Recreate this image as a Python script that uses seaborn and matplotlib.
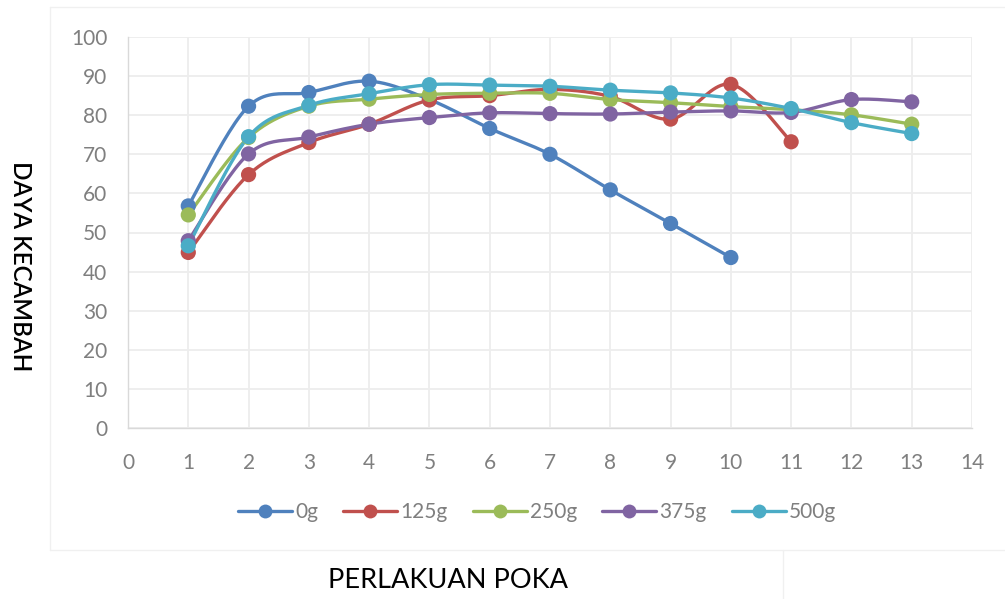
import numpy as np
import pandas as pd
import matplotlib
matplotlib.use("Agg")
import matplotlib.pyplot as plt
import seaborn as sns
from matplotlib.lines import Line2D

# ---- data ----
series_names = ["0g", "125g", "250g", "375g", "500g"]
x_0g   = [1, 2, 3, 4, 5, 6, 7, 8, 9, 10]
y_0g   = [56.8, 82.3, 85.8, 88.7, 84.0, 76.6, 70.0, 60.9, 52.3, 43.6]
x_125g = [1, 2, 3, 4, 5, 6, 7, 8, 9, 10, 11]
y_125g = [44.9, 64.8, 73.0, 77.7, 83.9, 85.0, 86.6, 84.8, 79.0, 87.9, 73.2]
x_250g = [1, 2, 3, 4, 5, 6, 7, 8, 9, 10, 11, 12, 13]
y_250g = [54.5, 74.3, 82.3, 84.1, 85.3, 85.6, 85.6, 84.0, 83.2, 82.2, 81.4, 80.1, 77.7]
x_375g = [1, 2, 3, 4, 5, 6, 7, 8, 9, 10, 11, 12, 13]
y_375g = [47.9, 70.1, 74.4, 77.7, 79.4, 80.6, 80.4, 80.3, 80.8, 81.1, 80.7, 84.0, 83.4]
x_500g = [1, 2, 3, 4, 5, 6, 7, 8, 9, 10, 11, 12, 13]
y_500g = [46.6, 74.5, 82.5, 85.5, 87.8, 87.7, 87.4, 86.4, 85.7, 84.4, 81.7, 78.1, 75.3]
x_ticks = list(range(0, 15))
y_ticks = list(range(0, 101, 10))
colors = ["#4F81BD", "#C0504D", "#9BBB59", "#8064A2", "#4BACC6"]

xs = [x_0g, x_125g, x_250g, x_375g, x_500g]
ys = [y_0g, y_125g, y_250g, y_375g, y_500g]

def smooth(x, y, n=24):
    """Excel-like smoothed line (Catmull-Rom Bezier)."""
    x = np.asarray(x, float); y = np.asarray(y, float)
    P = np.column_stack([x, y])
    P = np.vstack([P[0], P, P[-1]])
    out = []
    for i in range(1, len(P) - 2):
        p0, p1, p2, p3 = P[i - 1], P[i], P[i + 1], P[i + 2]
        c1 = p1 + (p2 - p0) / 6.0
        c2 = p2 - (p3 - p1) / 6.0
        t = np.linspace(0, 1, n, endpoint=(i == len(P) - 3))[:, None]
        b = ((1 - t) ** 3) * p1 + 3 * ((1 - t) ** 2) * t * c1 + 3 * (1 - t) * t ** 2 * c2 + t ** 3 * p2
        out.append(b)
    out = np.vstack(out)
    return out[:, 0], out[:, 1]

sns.set_theme(style="white")
plt.rcParams["font.family"] = ["Lato", "DejaVu Sans"]

fig = plt.figure(figsize=(10.05, 5.99), dpi=100)
ax = fig.add_axes([128 / 1005, 1 - 428 / 599, (972 - 128) / 1005, (428 - 37) / 599])

for name, x, y, c in zip(series_names, xs, ys, colors):
    sx, sy = smooth(x, y)
    df_line = pd.DataFrame({"x": sx, "y": sy, "i": np.arange(len(sx))})
    sns.lineplot(data=df_line, x="x", y="y", sort=False, estimator=None, color=c,
                 linewidth=2.4, ax=ax, zorder=3)
    df_pts = pd.DataFrame({"x": x, "y": y})
    sns.scatterplot(data=df_pts, x="x", y="y", color=c, s=120, edgecolor="none",
                    ax=ax, zorder=4)

ax.set_xlim(0, 14)
ax.set_ylim(0, 100)
ax.set_xticks(x_ticks)
ax.set_yticks(y_ticks)
ax.grid(True, color="#EDEDED", linewidth=1.3)
ax.set_axisbelow(True)
for s in ["top", "right"]:
    ax.spines[s].set_visible(False)
for s in ["left", "bottom"]:
    ax.spines[s].set_color("#D9D9D9")
    ax.spines[s].set_linewidth(1.0)
ax.tick_params(axis="both", colors="#7F7F7F", labelsize=15, length=0)
ax.tick_params(axis="y", pad=15)
ax.tick_params(axis="x", pad=18)
ax.set_xlabel("")
ax.set_ylabel("")

fig.text(20 / 1005, 1 - 266 / 599, "DAYA KECAMBAH", rotation=-90, ha="center", va="center",
         fontsize=17.5, color="#000000", fontweight="semibold")
fig.text(448 / 1005, 1 - 580 / 599, "PERLAKUAN POKA", ha="center", va="center",
         fontsize=19.5, color="#000000")

handles = [Line2D([0], [0], color=c, linewidth=2.4, marker="o", markersize=10,
                  markeredgewidth=0) for c in colors]
leg = fig.legend(handles, series_names, loc="center", ncol=5,
                 bbox_to_anchor=(537 / 1005, 1 - 512 / 599), frameon=False,
                 fontsize=15, handlelength=2.6, handletextpad=0.15, columnspacing=1.2)
for t in leg.get_texts():
    t.set_color("#7F7F7F")

# faint chart-area border like the source screenshot
fig.add_artist(Line2D([50 / 1005, 50 / 1005], [1 - 7 / 599, 1 - 550 / 599], color="#F0F0F0", lw=1))
fig.add_artist(Line2D([50 / 1005, 1.0], [1 - 550 / 599, 1 - 550 / 599], color="#F0F0F0", lw=1))
fig.add_artist(Line2D([50 / 1005, 1.0], [1 - 7 / 599, 1 - 7 / 599], color="#F0F0F0", lw=1))
fig.add_artist(Line2D([783 / 1005, 783 / 1005], [0, 1 - 550 / 599], color="#F0F0F0", lw=1))

fig.savefig("out.png", dpi=100)
